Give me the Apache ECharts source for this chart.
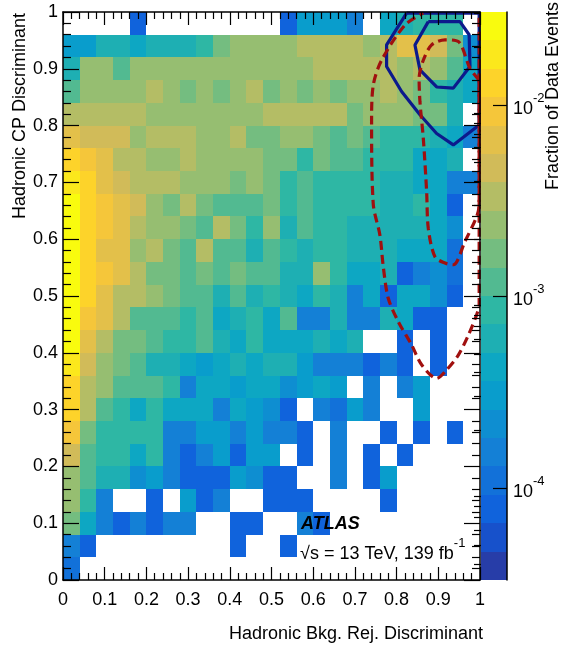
<!DOCTYPE html>
<html><head><meta charset="utf-8">
<script src="https://cdn.jsdelivr.net/npm/echarts@6/dist/echarts.min.js"></script>
<style>html,body{margin:0;padding:0;background:#fff}#c{width:562px;height:646px}</style>
</head><body><div id="c"></div>
<script>
// ---------- bin edges ----------
const xEdges = [0,0.04,0.08,0.12,0.16,0.2,0.24,0.28,0.32,0.36,0.4,0.44,0.48,0.52,0.56,0.6,0.64,0.68,0.72,0.76,0.8,0.84,0.88,0.92,0.96,1];
const yEdges = [0,0.04,0.08,0.12,0.16,0.2,0.24,0.28,0.32,0.36,0.4,0.44,0.48,0.52,0.56,0.6,0.64,0.68,0.72,0.76,0.8,0.84,0.88,0.92,0.96,1];

// ---------- fraction of data events, one array per y bin (x bins 0..24), 0 = empty ----------
const fracY96 = [0,0,0,0,7.8e-5,0,0,0,0,0,0,0,0,8.5e-5,3.6e-4,3.6e-4,3.6e-4,1.82e-4,0,3.9e-4,7.1e-4,8.5e-4,8.5e-4,8.5e-4,0];
const fracY92 = [3.6e-4,3.6e-4,5.5e-4,5.5e-4,4.3e-4,7.1e-4,7.1e-4,5.5e-4,7.8e-4,1.68e-3,2.57e-3,2.0e-3,2.57e-3,2.57e-3,3.9e-3,3.9e-3,3.9e-3,3.9e-3,2.57e-3,3.05e-3,6.0e-3,6.0e-3,4.7e-3,1.68e-3,2.0e-4];
const fracY88 = [6.0e-4,2.36e-3,2.36e-3,1.3e-3,2.0e-3,2.57e-3,2.57e-3,2.57e-3,2.57e-3,2.57e-3,2.57e-3,2.57e-3,2.57e-3,2.57e-3,2.57e-3,3.3e-3,3.9e-3,3.9e-3,3.9e-3,3.6e-3,2.8e-3,3.3e-3,2.8e-3,1.1e-3,4.7e-4];
const fracY84 = [1.19e-3,2.0e-3,2.57e-3,2.57e-3,2.57e-3,3.9e-3,2.57e-3,1.68e-3,2.57e-3,1.68e-3,2.57e-3,3.9e-3,1.68e-3,2.57e-3,1.68e-3,2.57e-3,1.68e-3,2.57e-3,2.57e-3,3.9e-3,2.57e-3,1.68e-3,1.0e-3,6.6e-4,4.3e-4];
const fracY80 = [3.6e-3,3.6e-3,3.6e-3,3.6e-3,3.6e-3,2.57e-3,2.57e-3,2.57e-3,2.57e-3,2.57e-3,2.57e-3,2.57e-3,3.05e-3,3.05e-3,3.05e-3,3.05e-3,3.05e-3,1.83e-3,2.57e-3,2.57e-3,2.57e-3,1.68e-3,1.68e-3,6.0e-4,0];
const fracY76 = [7.2e-3,5.5e-3,5.5e-3,5.5e-3,2.36e-3,3.6e-3,3.6e-3,3.6e-3,2.57e-3,2.57e-3,3.9e-3,1.83e-3,1.68e-3,2.8e-3,2.8e-3,1.68e-3,1.3e-3,1.68e-3,1.3e-3,1.0e-3,1.0e-3,1.0e-3,6.6e-4,4.3e-4,1.54e-4];
const fracY72 = [1.1e-2,8.5e-3,6.0e-3,3.6e-3,3.6e-3,2.57e-3,2.0e-3,3.6e-3,2.57e-3,2.57e-3,2.57e-3,2.0e-3,1.68e-3,1.68e-3,1.0e-3,1.54e-3,1.19e-3,1.19e-3,1.0e-3,9.2e-4,8.5e-4,4.7e-4,4.7e-4,5.5e-4,0];
const fracY68 = [2.0e-2,1.1e-2,7.8e-3,5.5e-3,3.6e-3,3.6e-3,3.05e-3,2.57e-3,2.57e-3,2.57e-3,1.68e-3,2.57e-3,1.68e-3,9.2e-4,1.19e-3,9.2e-4,9.2e-4,9.2e-4,9.2e-4,6.6e-4,6.6e-4,4.3e-4,4.3e-4,1.3e-4,1.3e-4];
const fracY64 = [2.6e-2,1.1e-2,9.2e-3,6.6e-3,5.5e-3,2.36e-3,1.68e-3,3.9e-3,1.54e-3,1.1e-3,1.1e-3,1.1e-3,1.42e-3,9.2e-4,1.3e-3,9.2e-4,8.5e-4,8.5e-4,8.5e-4,6.6e-4,6.6e-4,7.8e-4,3.9e-4,8.5e-5,0];
const fracY60 = [2.6e-2,1.1e-2,8.5e-3,7.2e-3,3.9e-3,2.57e-3,2.57e-3,1.68e-3,1.19e-3,3.3e-3,1.83e-3,8.5e-4,2.0e-3,7.1e-4,1.3e-3,8.5e-4,8.5e-4,6.0e-4,6.0e-4,6.0e-4,6.0e-4,6.0e-4,4.3e-4,2.35e-4,0];
const fracY56 = [2.6e-2,1.42e-2,7.2e-3,7.2e-3,2.57e-3,3.6e-3,1.68e-3,1.19e-3,3.05e-3,1.19e-3,1.19e-3,7.1e-4,1.3e-3,8.5e-4,6.6e-4,8.5e-4,7.8e-4,7.1e-4,6.6e-4,6.6e-4,4.3e-4,4.3e-4,4.7e-4,1.0e-4,0];
const fracY52 = [2.6e-2,1.1e-2,8.5e-3,6.6e-3,3.9e-3,1.68e-3,1.68e-3,1.19e-3,1.68e-3,1.19e-3,1.68e-3,1.19e-3,1.3e-3,6.0e-4,6.0e-4,2.0e-3,8.5e-4,4.3e-4,4.3e-4,7.1e-4,8.5e-5,1.54e-4,2.35e-4,9.2e-5,0];
const fracY48 = [2.6e-2,1.1e-2,6.0e-3,3.9e-3,3.9e-3,2.57e-3,1.68e-3,1.19e-3,1.19e-3,6.6e-4,1.19e-3,6.6e-4,8.5e-4,6.0e-4,3.9e-4,7.8e-4,7.1e-4,1.82e-4,3.9e-4,8.5e-5,3.9e-4,3.9e-4,2.35e-4,8.5e-5,0];
const fracY44 = [2.6e-2,8.5e-3,6.0e-3,3.6e-3,1.3e-3,1.3e-3,1.19e-3,8.5e-4,1.19e-3,4.3e-4,6.0e-4,8.5e-4,3.9e-4,1.1e-3,1.82e-4,1.82e-4,7.1e-4,1.82e-4,1.82e-4,5.5e-4,4.3e-4,8.5e-5,8.5e-5,0,0];
const fracY40 = [2.6e-2,6.6e-3,3.6e-3,1.68e-3,1.68e-3,1.19e-3,8.5e-4,8.5e-4,1.19e-3,6.6e-4,3.9e-4,7.8e-4,4.3e-4,3.9e-4,4.3e-4,7.1e-4,3.9e-4,7.1e-4,0,0,8.5e-5,0,8.5e-5,0,0];
const fracY36 = [1.68e-2,5.5e-3,2.57e-3,1.68e-3,1.3e-3,6.0e-4,6.0e-4,4.3e-4,2.6e-4,3.9e-4,6.0e-4,4.3e-4,5.5e-4,6.0e-4,3.6e-4,1.82e-4,1.82e-4,1.82e-4,8.5e-5,1.54e-4,8.5e-5,0,8.5e-5,0,0];
const fracY32 = [1.42e-2,3.6e-3,2.57e-3,1.3e-3,1.3e-3,1.3e-3,7.8e-4,1.82e-4,4.3e-4,4.3e-4,3.6e-4,3.9e-4,3.9e-4,2.2e-4,3.6e-4,4.7e-4,3.6e-4,0,1.82e-4,0,1.82e-4,3.6e-4,0,0,0];
const fracY28 = [1.3e-2,3.9e-3,1.19e-3,9.2e-4,4.3e-4,8.5e-4,4.7e-4,4.3e-4,4.3e-4,1.82e-4,4.7e-4,2.6e-4,2.0e-4,8.5e-5,0,1.82e-4,9.2e-5,3.6e-4,1.82e-4,0,0,3.6e-4,0,0,0];
const fracY24 = [9.2e-3,1.83e-3,9.2e-4,9.2e-4,9.2e-4,8.5e-4,1.82e-4,1.82e-4,2.6e-4,3.05e-4,1.82e-4,3.05e-4,1.82e-4,1.82e-4,8.5e-5,0,1.82e-4,0,0,8.5e-5,0,8.5e-5,0,8.5e-5,0];
const fracY20 = [4.7e-3,1.19e-3,8.5e-4,8.5e-4,4.3e-4,7.8e-4,1.82e-4,7.8e-5,1.54e-4,2.6e-4,7.8e-5,3.05e-4,3.05e-4,0,8.5e-5,0,1.82e-4,0,8.5e-5,0,8.5e-5,0,0,0,0];
const fracY16 = [2.8e-3,1.3e-3,5.1e-4,5.1e-4,2.0e-4,3.6e-4,1.82e-4,8.5e-5,8.5e-5,8.5e-5,2.8e-4,2.0e-4,8.5e-5,8.5e-5,0,0,1.82e-4,0,8.5e-5,3.05e-4,0,0,0,0,0];
const fracY12 = [2.36e-3,1.0e-3,1.67e-4,0,0,8.5e-5,0,3.6e-4,8.5e-5,1.67e-4,0,0,8.5e-5,8.5e-5,8.5e-5,0,0,0,0,8.5e-5,0,0,0,0,0];
const fracY08 = [1.42e-3,4.3e-4,1.54e-4,8.5e-5,1.54e-4,8.5e-5,1.54e-4,1.54e-4,0,0,8.5e-5,8.5e-5,0,0,1.67e-4,8.5e-5,0,0,0,0,0,0,0,0,0];
const fracY04 = [1.82e-4,8.5e-5,0,0,0,0,0,0,0,0,8.5e-5,0,0,8.5e-5,0,0,0,0,0,0,0,0,0,0,0];
const fracY00 = [9.2e-5,0,0,0,0,0,0,0,0,0,0,0,0,0,0,0,0,0,0,0,0,0,0,0,0];
const fracRows = [fracY00,fracY04,fracY08,fracY12,fracY16,fracY20,fracY24,fracY28,fracY32,fracY36,fracY40,fracY44,fracY48,fracY52,fracY56,fracY60,fracY64,fracY68,fracY72,fracY76,fracY80,fracY84,fracY88,fracY92,fracY96];

// ---------- contour lines (x, y) ----------
const blueOuter = [[0.824,0.998],[0.998,0.998],[0.998,0.801],[0.936,0.766],[0.896,0.786],[0.856,0.819],[0.812,0.860],[0.776,0.904],[0.776,0.942],[0.824,0.998]];
const blueInner = [[0.876,0.983],[0.952,0.983],[0.974,0.960],[0.976,0.904],[0.936,0.866],[0.896,0.868],[0.856,0.898],[0.844,0.942],[0.876,0.983]];
const redOuter = [[0.998,0.99],[0.998,0.484],[0.992,0.467],[0.972,0.431],[0.948,0.396],[0.920,0.370],[0.896,0.355],[0.860,0.379],[0.836,0.414],[0.804,0.455],[0.780,0.496],[0.768,0.552],[0.760,0.607],[0.744,0.662],[0.740,0.807],[0.744,0.871],[0.764,0.915],[0.820,0.977],[0.864,0.998]];
const redInner = [[0.998,0.88],[0.976,0.901],[0.948,0.948],[0.916,0.951],[0.884,0.942],[0.864,0.915],[0.854,0.883],[0.856,0.842],[0.864,0.778],[0.872,0.684],[0.876,0.619],[0.892,0.569],[0.916,0.558],[0.936,0.555],[0.964,0.596],[0.992,0.640],[0.998,0.66],[0.998,0.88]];

// ---------- colour scale ----------
const zMin = 3.3e-5, zMax = 3.06e-2, nContours = 20;
const zMajorExp = [-4, -3, -2];
const zMinorTicks = [4e-5,5e-5,6e-5,7e-5,8e-5,9e-5,2e-4,3e-4,4e-4,5e-4,6e-4,7e-4,8e-4,9e-4,2e-3,3e-3,4e-3,5e-3,6e-3,7e-3,8e-3,9e-3,2e-2,3e-2];
const birdStops = [0,0.125,0.25,0.375,0.5,0.625,0.75,0.875,1];
const birdR = [0.2082,0.0592,0.0780,0.0232,0.1802,0.5301,0.8186,0.9956,0.9764];
const birdG = [0.1664,0.3599,0.5041,0.6419,0.7178,0.7492,0.7328,0.7862,0.9832];
const birdB = [0.5293,0.8684,0.8385,0.7914,0.6425,0.4662,0.3499,0.1968,0.0539];

const lMin = Math.log10(zMin), lMax = Math.log10(zMax);
function bird(t){
  t = Math.max(0, Math.min(1, t));
  let i = 0; while (i < 7 && t > birdStops[i+1]) i++;
  const f = (t - birdStops[i]) / (birdStops[i+1] - birdStops[i]);
  const c = a => Math.round(255 * (a[i] + (a[i+1] - a[i]) * f));
  return 'rgb(' + c(birdR) + ',' + c(birdG) + ',' + c(birdB) + ')';
}
function levelColor(lv){
  let k = Math.floor((lv - lMin) / (lMax - lMin) * nContours);
  k = Math.max(0, Math.min(nContours - 1, k));
  const idx = Math.floor((k + 0.99) * 255 / nContours);
  return bird(idx / 254);
}

const cells = [];
fracRows.forEach((row, j) => row.forEach((v, i) => {
  if (v > 0) cells.push([xEdges[i], xEdges[i+1], yEdges[j], yEdges[j+1], Math.log10(v)]);
}));
const bands = [];
for (let k = 0; k < nContours; k++) {
  const lo = lMin + (lMax - lMin) * k / nContours, hi = lMin + (lMax - lMin) * (k + 1) / nContours;
  bands.push([0, 1, lo, hi, (lo + hi) / 2]);
}

function renderRect(params, api){
  const a = api.coord([api.value(0), api.value(3)]);
  const b = api.coord([api.value(1), api.value(2)]);
  const x0 = Math.round(a[0]), y0 = Math.round(a[1]), x1 = Math.round(b[0]), y1 = Math.round(b[1]);
  return {type:'rect', shape:{x:x0, y:y0, width:x1-x0, height:y1-y0}, style:{fill: levelColor(api.value(4))}};
}

const FONT = 'Liberation Sans';
function mainAxis(kind, pos, showLabel, tickLen, minorLen, margin){
  return {type:'value', gridIndex:0, min:0, max:1, interval:0.1, position:pos, z:10,
    axisLine:{show:true, onZero:false, lineStyle:{color:'#000', width:1.5}},
    axisTick:{show:true, inside:true, length:tickLen, lineStyle:{color:'#000', width:1.2}},
    minorTick:{show:true, splitNumber:5, length:minorLen, lineStyle:{color:'#000', width:1.2}},
    axisLabel:{show:showLabel, color:'#000', fontSize:18, fontFamily:FONT, margin:margin},
    splitLine:{show:false}, minorSplitLine:{show:false}};
}

const chart = echarts.init(document.getElementById('c'), null, {renderer:'canvas'});
chart.setOption({
  animation:false,
  backgroundColor:'#fff',
  textStyle:{fontFamily:FONT},
  grid:[
    {left:63, top:12, width:417, height:568},
    {left:481, top:12, width:26, height:568}
  ],
  xAxis:[
    mainAxis('x','bottom',true,13,7,11),
    mainAxis('x','top',false,13,7,0),
    {type:'value', gridIndex:1, min:0, max:1, show:false}
  ],
  yAxis:[
    mainAxis('y','left',true,16,8,5),
    mainAxis('y','right',false,16,8,0),
    {type:'value', gridIndex:1, min:lMin, max:lMax, position:'right', z:10,
      axisLine:{show:true, onZero:false, lineStyle:{color:'#000', width:1.5}},
      axisTick:{show:true, inside:true, length:14, customValues:zMajorExp, lineStyle:{color:'#000', width:1.2}},
      axisLabel:{show:true, margin:6, customValues:zMajorExp, color:'#000',
        formatter: v => '{b|10}{s|' + Math.round(v) + '}',
        rich:{b:{fontSize:18, fontFamily:FONT, color:'#000', verticalAlign:'bottom', lineHeight:26},
              s:{fontSize:13, fontFamily:FONT, color:'#000', verticalAlign:'top', lineHeight:26}}},
      splitLine:{show:false}},
    {type:'value', gridIndex:1, min:lMin, max:lMax, position:'right', z:10,
      axisLine:{show:false},
      axisTick:{show:true, inside:true, length:7, customValues:zMinorTicks.map(v => Math.log10(v)), lineStyle:{color:'#000', width:1.2}},
      axisLabel:{show:false}, splitLine:{show:false}}
  ],
  series:[
    {type:'custom', name:'data', xAxisIndex:0, yAxisIndex:0, renderItem:renderRect, data:cells, encode:{x:[0,1], y:[2,3]}, z:2, silent:true},
    {type:'custom', name:'palette', xAxisIndex:2, yAxisIndex:2, renderItem:renderRect, data:bands, encode:{x:[0,1], y:[2,3]}, z:2, silent:true},
    {type:'line', xAxisIndex:0, yAxisIndex:0, data:blueOuter, showSymbol:false, symbol:'none', clip:false, z:5, lineStyle:{color:'#0c1a8c', width:3.2}},
    {type:'line', xAxisIndex:0, yAxisIndex:0, data:blueInner, showSymbol:false, symbol:'none', clip:false, z:5, lineStyle:{color:'#0c1a8c', width:3.2}},
    {type:'line', xAxisIndex:0, yAxisIndex:0, data:redOuter, showSymbol:false, symbol:'none', clip:false, z:6, smooth:0.3, lineStyle:{color:'#a0100f', width:3.2, type:[9,5]}},
    {type:'line', xAxisIndex:0, yAxisIndex:0, data:redInner, showSymbol:false, symbol:'none', clip:false, z:6, smooth:0.3, lineStyle:{color:'#a0100f', width:3.2, type:[9,5]}}
  ],
  graphic:[
    {type:'text', x:483, y:634, z:20, style:{text:'Hadronic Bkg. Rej. Discriminant', font:'18px "Liberation Sans"', fill:'#000', align:'right', verticalAlign:'middle'}},
    {type:'text', x:20, y:13, rotation:Math.PI/2, z:20, style:{text:'Hadronic CP Discriminant', font:'18px "Liberation Sans"', fill:'#000', align:'right', verticalAlign:'middle'}},
    {type:'text', x:553, y:2, rotation:Math.PI/2, z:20, style:{text:'Fraction of Data Events', font:'18px "Liberation Sans"', fill:'#000', align:'right', verticalAlign:'middle'}},
    {type:'text', x:301, y:524, z:20, style:{text:'ATLAS', font:'italic bold 18px "Liberation Sans"', fill:'#000', align:'left', verticalAlign:'middle'}},
    {type:'text', x:300, y:550, z:20, style:{text:'{n|√s = 13 TeV, 139 fb}{s|-1}', align:'left', verticalAlign:'middle',
      rich:{n:{fontSize:18, fontFamily:FONT, color:'#000', verticalAlign:'bottom', lineHeight:26},
            s:{fontSize:13, fontFamily:FONT, color:'#000', verticalAlign:'top', lineHeight:26}}}}
  ]
});
</script></body></html>
